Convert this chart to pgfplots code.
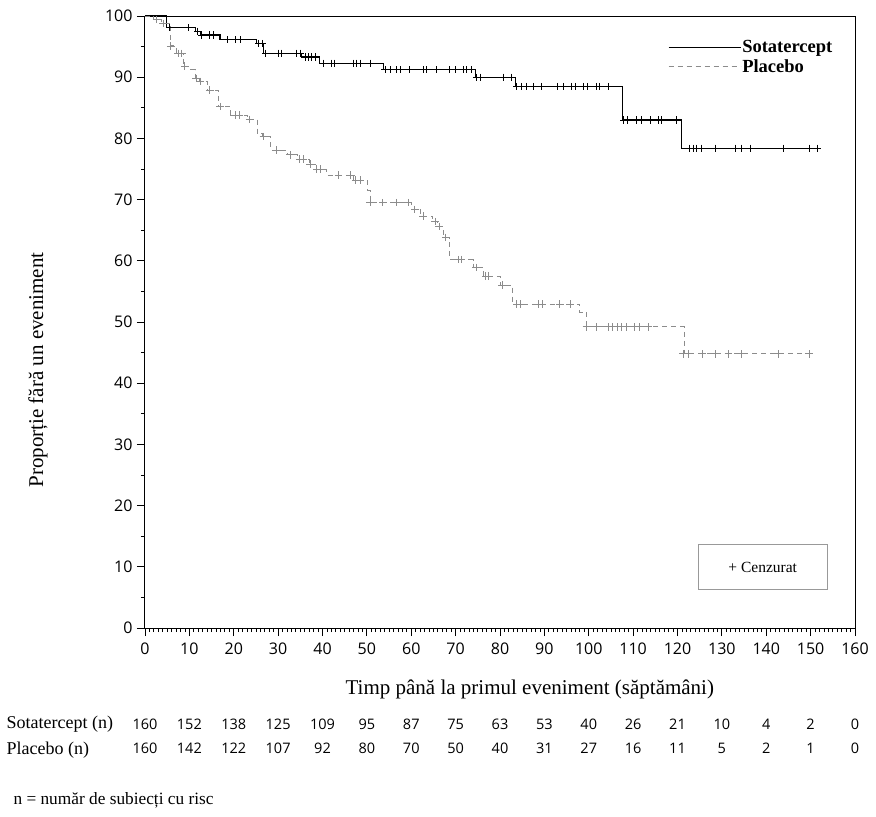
\documentclass[border=0pt]{standalone}
\usepackage{fontspec}
\setmainfont{Liberation Serif}
\newfontfamily\numfont{Open Sans}
\usepackage{pgfplots}
\pgfplotsset{compat=1.18}
\definecolor{pbo}{gray}{0.55}

\begin{document}
\begin{tikzpicture}[x=1pt,y=1pt]
% page frame
\path (0,0) rectangle (876,-817);
\begin{axis}[
  at={(145pt,-628pt)}, anchor=south west,
  scale only axis, width=710pt, height=612pt,
  xmin=0, xmax=160, ymin=0, ymax=100,
  xtick={0,10,...,160}, ytick={0,10,...,100},
  minor x tick num=9, minor y tick num=1,
  xtick pos=bottom, ytick pos=left,
  tick align=outside,
  major tick length=8pt, minor tick length=4pt,
  axis line style={line width=1pt},
  every tick/.style={black, line width=0.8pt},
  /pgf/number format/assume math mode=true,
  tick label style={font=\numfont\fontsize{16}{18}\selectfont},
  xticklabel style={yshift=-3pt},
  yticklabel style={xshift=-1pt},
  xlabel={Timp până la primul eveniment (săptămâni)},
  xlabel style={font=\fontsize{21}{24}\selectfont, at={(axis description cs:0.542,-0.0997)}, anchor=center},
  ylabel={Proporție fără un eveniment},
  ylabel style={font=\fontsize{21}{24}\selectfont, at={(axis description cs:-0.1507,0.4216)}, anchor=center},
  clip=false,
  legend style={at={(rel axis cs:0.7366,0.962)}, anchor=north west, draw=none, fill=none,
    font=\bfseries\fontsize{18.5}{20}\selectfont, row sep=3pt, inner sep=0pt,
    nodes={inner sep=1pt}},
  legend cell align=left,
  legend image code/.code={\draw[#1] (0pt,0pt) -- (72pt,0pt);},
]
% Kaplan-Meier step curves
\addplot[const plot, black, line width=1.1pt] coordinates {
  (0,100) (4.9,98.1) (11.3,97.5) (12.5,96.9) (16.9,96.1) (25.2,95.5)
  (26.7,93.9) (35.3,93.3) (39.4,92.3) (53.7,91.2) (74.4,90.0) (83.4,88.5)
  (107.6,83.0) (120.9,78.4) (152.3,78.4)};
\addlegendentry{Sotatercept}
\addplot[const plot, pbo, line width=1pt, dash pattern=on 5pt off 4pt] coordinates {
  (0,100) (2.0,99.4) (3.8,98.8) (5.8,95.1) (7.0,93.9) (8.6,91.8) (9.9,91.2)
  (11.3,89.8) (12.2,89.3) (14.0,87.9) (16.5,85.2) (19.3,83.8) (23.0,83.1)
  (25.3,80.8) (26.5,80.3) (28.3,78.1) (32.0,77.3) (34.4,76.6) (37.0,75.8)
  (38.5,75.0) (41.0,74.0) (47.0,73.2) (50.2,71.5) (50.8,69.5) (60.0,68.4)
  (62.0,67.3) (64.8,66.4) (66.0,65.6) (67.3,63.8) (68.7,60.2) (74.0,58.9)
  (76.3,57.5) (80.0,56.0) (82.8,52.9) (98.0,51.6) (99.5,49.2) (121.5,44.8)
  (150.0,44.8)};
\addlegendentry{Placebo}
% censored observations
\addplot[only marks, mark=+, mark size=3.6pt, black, mark options={line width=0.9pt}, forget plot] coordinates {
  (5.6,98.1) (9.8,98.1) (11.9,97.5)
  (12.8,96.9) (14.6,96.9) (15.5,96.9)
  (18.6,96.1) (20.4,96.1) (21.6,96.1)
  (25.6,95.5) (26.4,95.5)
  (27.2,93.9) (30.0,93.9) (30.8,93.9) (34.2,93.9) (35.0,93.9)
  (36.1,93.3) (36.9,93.3) (37.6,93.3) (38.4,93.3)
  (40.2,92.3) (42.1,92.3) (42.8,92.3) (46.9,92.3) (47.7,92.3) (48.5,92.3) (50.7,92.3)
  (54.1,91.2) (55.2,91.2) (56.7,91.2) (57.5,91.2) (59.7,91.2) (62.7,91.2) (63.4,91.2)
  (65.7,91.2) (68.7,91.2) (69.9,91.2) (71.7,91.2) (72.5,91.2) (73.6,91.2)
  (74.7,90.0) (75.5,90.0) (80.7,90.0) (82.6,90.0)
  (83.8,88.5) (84.9,88.5) (86.0,88.5) (87.5,88.5) (89.3,88.5) (93.0,88.5) (94.3,88.5)
  (96.2,88.5) (96.9,88.5) (98.8,88.5) (99.6,88.5) (101.8,88.5) (102.5,88.5) (104.4,88.5)
  (107.9,83.0) (108.7,83.0) (110.8,83.0) (111.9,83.0) (113.8,83.0) (115.7,83.0) (116.4,83.0) (119.8,83.0)
  (122.8,78.4) (123.5,78.4) (124.3,78.4) (125.4,78.4) (128.5,78.4) (133.0,78.4) (134.5,78.4)
  (136.5,78.4) (143.8,78.4) (149.7,78.4) (151.5,78.4)};
\addplot[only marks, mark=+, mark size=3.8pt, pbo, mark options={line width=0.9pt}, forget plot] coordinates {
  (2.6,99.4) (4.1,98.8) (5.8,95.1) (7.5,93.9) (8.3,93.9) (9.0,91.8)
  (11.5,89.8) (12.4,89.3) (14.6,87.9) (16.9,85.2) (20.3,83.8) (21.2,83.8) (23.6,83.1)
  (26.7,80.3) (29.7,78.1) (32.7,77.3) (34.9,76.6) (35.7,76.6) (37.2,75.8)
  (38.7,75.0) (39.6,75.0) (43.6,74.0) (46.4,74.0) (47.5,73.2) (48.6,73.2)
  (50.7,69.5) (53.6,69.5) (56.6,69.5) (59.3,69.5) (60.8,68.4) (62.7,67.3) (65.4,66.4)
  (66.3,65.6) (67.8,63.8) (70.6,60.2) (71.3,60.2) (74.6,58.9) (76.8,57.5) (77.5,57.5)
  (80.5,56.0) (83.8,52.9) (84.7,52.9) (88.7,52.9) (89.6,52.9) (93.5,52.9) (95.8,52.9)
  (99.5,49.2) (101.8,49.2) (104.4,49.2) (105.4,49.2) (106.4,49.2) (107.4,49.2) (108.6,49.2)
  (110.4,49.2) (111.5,49.2) (113.4,49.2)
  (121.3,44.8) (122.4,44.8) (125.6,44.8) (128.5,44.8) (131.5,44.8) (134.5,44.8)
  (142.7,44.8) (149.7,44.8)};
% censoring key
\node[draw=gray!80, line width=1pt, minimum width=129pt, minimum height=45pt,
  font=\fontsize{15.5}{18}\selectfont] at (axis cs:139.2,9.9) {+ Cenzurat};
\end{axis}
% numbers at risk
\node[anchor=west, font=\fontsize{18}{20}\selectfont] at (3,-724) {Sotatercept (n)};
\node[anchor=west, font=\fontsize{18}{20}\selectfont] at (3,-750) {Placebo (n)};
\foreach \t/\a/\b in {0/160/160,10/152/142,20/138/122,30/125/107,40/109/92,50/95/80,
  60/87/70,70/75/50,80/63/40,90/53/31,100/40/27,110/26/16,120/21/11,130/10/5,
  140/4/2,150/2/1,160/0/0}{
  \node[font=\numfont\fontsize{14.5}{16}\selectfont] at (145+4.4375*\t,-724) {\a};
  \node[font=\numfont\fontsize{14.5}{16}\selectfont] at (145+4.4375*\t,-748) {\b};
}
\node[anchor=west, font=\fontsize{17.3}{20}\selectfont] at (10,-800) {n = număr de subiecți cu risc};
\end{tikzpicture}
\end{document}
